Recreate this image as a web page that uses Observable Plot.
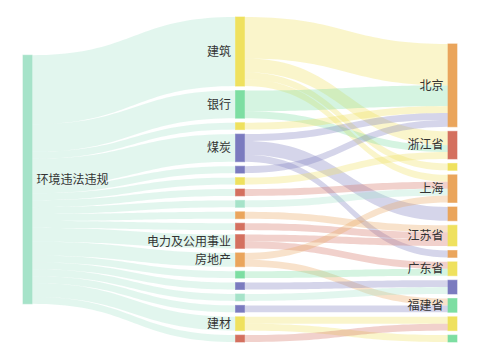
<!DOCTYPE html>
<html><head><meta charset="utf-8">
<script src="https://cdn.jsdelivr.net/npm/d3@7"></script>
<script src="https://cdn.jsdelivr.net/npm/@observablehq/plot@0.6"></script>
<style>body{margin:0;background:#fff}</style>
</head><body><div id="chart"></div>
<script>
const palette = {yellow:"#efe15e", green:"#7ddea2", purple:"#7b7bbf", red:"#d4705f", orange:"#eaa55c", mint:"#a6e3c9"};

const col0Ids = ["环境违法违规"];
const col0Labels = ["环境违法违规"];
const col0Colors = ["mint"];

const col1Ids = ["建筑","银行","m3","煤炭","m5","m6","m7","m8","m9","m10","电力及公用事业","房地产","m13","m14","m15","m16","建材","m18"];
const col1Labels = ["建筑","银行","","煤炭","","","","","","","电力及公用事业","房地产","","","","","建材",""];
const col1Colors = ["yellow","green","yellow","purple","purple","yellow","red","mint","orange","red","red","orange","green","purple","mint","purple","yellow","red"];
const firstStageValues = [10,4,1,4,1,1,1,1,1,1,2,2,1,1,1,1,2,1];

const col2Ids = ["北京","浙江省","r3","上海","r5","江苏省","r7","广东省","r9","福建省","r11","r12"];
const col2Labels = ["北京","浙江省","","上海","","江苏省","","广东省","","福建省","",""];
const col2Colors = ["orange","red","yellow","orange","orange","yellow","orange","yellow","purple","green","yellow","green"];

const secondSource = ["建筑","建筑","建筑","建筑","银行","银行","m3","煤炭","煤炭","煤炭","m5","m6","m7","m8","m9","m10","电力及公用事业","电力及公用事业","房地产","房地产","m13","m14","m15","m16","建材","建材","m18"];
const secondTarget = ["北京","浙江省","r3","上海","北京","浙江省","北京","北京","r5","r7","北京","浙江省","上海","上海","江苏省","江苏省","江苏省","广东省","上海","福建省","广东省","r9","r9","福建省","r11","r12","r11"];
const secondValue = [6,2,1,1,3,1,1,1,2,1,1,1,1,1,1,1,1,1,1,1,1,1,1,1,1,1,1];

// ---- layout (sankey) ----
const GAP = 0.65;      // node gap in value units
const NW = 0.0424;     // node width in column units

const columns = [
  {ids: col0Ids, labels: col0Labels, colors: col0Colors},
  {ids: col1Ids, labels: col1Labels, colors: col1Colors},
  {ids: col2Ids, labels: col2Labels, colors: col2Colors}
];
const nodes = new Map();
columns.forEach((c, ci) => c.ids.forEach((id, i) => nodes.set(id, {id, col: ci, label: c.labels[i], color: c.colors[i], ins: [], outs: []})));

const links = [];
col1Ids.forEach((id, i) => links.push({source: col0Ids[0], target: id, value: firstStageValues[i]}));
secondSource.forEach((s, i) => links.push({source: s, target: secondTarget[i], value: secondValue[i]}));
links.forEach((l, i) => { l.id = i; nodes.get(l.source).outs.push(l); nodes.get(l.target).ins.push(l); });
for (const n of nodes.values()) n.value = Math.max(d3.sum(n.ins, l => l.value), d3.sum(n.outs, l => l.value));

const colSpans = columns.map(c => d3.sum(c.ids, id => nodes.get(id).value) + (c.ids.length - 1) * GAP);
const span = d3.max(colSpans);
columns.forEach((c, ci) => {
  let y = c.ids.length === 1 ? (span - colSpans[ci]) / 2 : span - colSpans[ci];
  c.ids.forEach(id => { const n = nodes.get(id); n.y0 = y; n.y1 = y + n.value; y = n.y1 + GAP; });
});
for (const n of nodes.values()) {
  n.outs.sort((a, b) => nodes.get(a.target).y0 - nodes.get(b.target).y0);
  n.ins.sort((a, b) => nodes.get(a.source).y0 - nodes.get(b.source).y0);
  let y = n.y0; n.outs.forEach(l => { l.sy = y; y += l.value; });
  y = n.y0; n.ins.forEach(l => { l.ty = y; y += l.value; });
}
const linkPts = [];
links.forEach(l => {
  const s = nodes.get(l.source), t = nodes.get(l.target);
  const x0 = s.col + NW, x1 = t.col, xm = (x0 + x1) / 2;
  for (let k = 0; k <= 40; k++) {
    const u = k / 40, a = (1-u)**3, b = 3*(1-u)**2*u, c = 3*(1-u)*u*u, d = u**3;
    const x = a*x0 + (b + c)*xm + d*x1;
    const yt = (a + b)*l.sy + (c + d)*l.ty;
    linkPts.push({link: l.id, x, y1: yt, y2: yt + l.value, fill: palette[s.color]});
  }
});
const nodeArr = [...nodes.values()];
const leftLabeled = nodeArr.filter(n => n.label && n.col === 0);
const otherLabeled = nodeArr.filter(n => n.label && n.col > 0);

const chart = Plot.plot({
  width: 480, height: 360,
  marginLeft: 23, marginRight: 23, marginTop: 17, marginBottom: 18,
  x: {domain: [0, 2 + NW], axis: null},
  y: {domain: [0, span], reverse: true, axis: null},
  color: {type: "identity"},
  style: {fontFamily: "'Noto Sans CJK SC', 'Noto Sans', sans-serif", fontSize: "12px", background: "#fff"},
  marks: [
    Plot.areaY(linkPts, {x: "x", y1: "y1", y2: "y2", z: "link", fill: "fill", fillOpacity: 0.32, curve: "linear"}),
    Plot.rect(nodeArr, {x1: d => d.col, x2: d => d.col + NW, y1: "y0", y2: "y1", fill: d => palette[d.color], stroke: d => palette[d.color], strokeOpacity: 0.6, strokeWidth: 1}),
    Plot.text(leftLabeled, {
      x: d => d.col + NW, y: d => (d.y0 + d.y1) / 2, text: "label",
      textAnchor: "start", dx: 4, fill: "#333", fontSize: 12
    }),
    Plot.text(otherLabeled, {
      x: d => d.col, y: d => (d.y0 + d.y1) / 2, text: "label",
      textAnchor: "end", dx: -5, fill: "#333", fontSize: 12
    })
  ]
});
document.getElementById("chart").appendChild(chart);
</script>
</body></html>
